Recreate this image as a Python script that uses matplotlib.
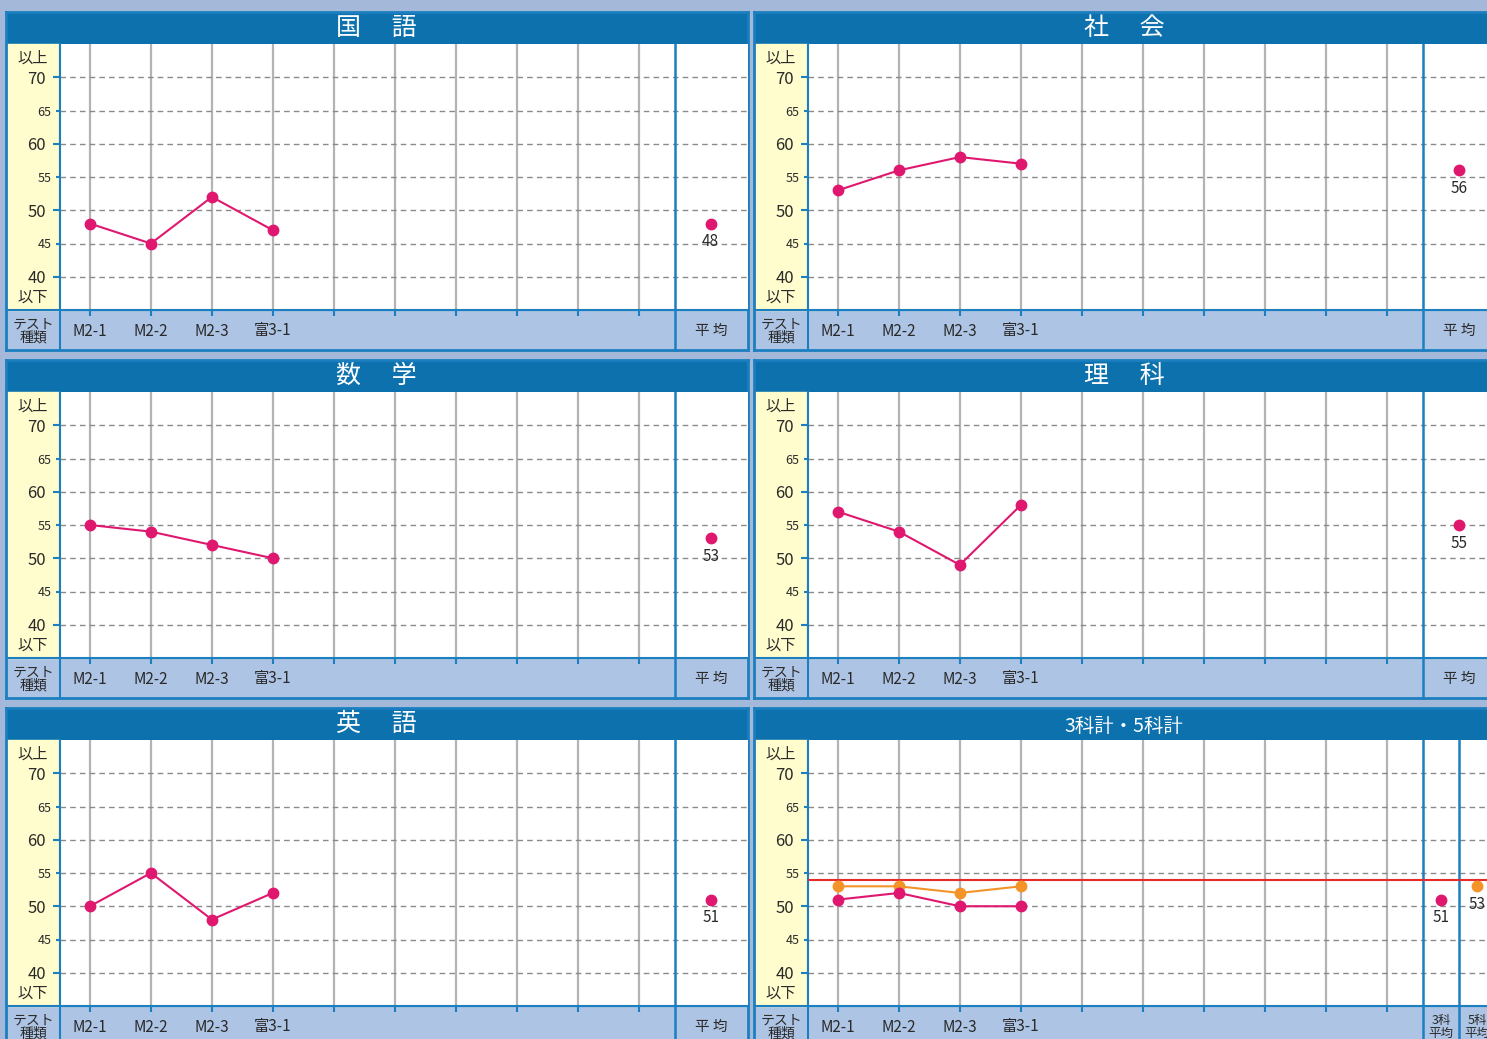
import numpy as np
import matplotlib.pyplot as plt
from matplotlib.ticker import FixedLocator

plt.rcParams['font.family'] = ['Noto Sans CJK JP', 'DejaVu Sans']

W, H = 1487, 1039

# data
tests = ['M2-1', 'M2-2', 'M2-3', '富3-1']
titles = ['国　 語', '社　 会', '数　 学', '理　 科', '英　 語', '3科計・5科計']
kokugo = [48, 45, 52, 47]
shakai = [53, 56, 58, 57]
sugaku = [55, 54, 52, 50]
rika = [57, 54, 49, 58]
eigo = [50, 55, 48, 52]
sum3 = [51, 52, 50, 50]
sum5 = [53, 53, 52, 53]
averages = [48, 56, 53, 55, 51]
avg3, avg5 = 51, 53
ref_line = 54

BLUE = '#0c71ad'
EDGE = '#1b7fc0'
PINK = '#e0176f'
ORANGE = '#f39328'
RED = '#e62b2b'
YELLOW = '#fffccd'
STRIP = '#aec4e4'
TXT = '#2a2a2a'

fig = plt.figure(figsize=(W / 100, H / 100), dpi=100)
fig.patch.set_facecolor('#a4b9d9')


def box(x0, y0, x1, y1):
    return fig.add_axes([x0 / W, 1 - y1 / H, (x1 - x0) / W, (y1 - y0) / H])


def panel(ox, oy, title, tsize=18, ty=16, seps=(9.59,)):
    bg = box(ox, oy, ox + 742, oy + 338)
    bg.set_facecolor(STRIP)
    bg.set_xlim(0, 742)
    bg.set_ylim(338, 0)
    bg.set_xticks([])
    bg.set_yticks([])
    for s in bg.spines.values():
        s.set_color(EDGE)
        s.set_linewidth(2)
    bg.add_patch(plt.Rectangle((0, 0), 742, 32, color=BLUE, zorder=1))
    bg.add_patch(plt.Rectangle((0, 32), 54, 266, color=YELLOW, zorder=1))
    bg.axhline(298, color=EDGE, lw=1.5, zorder=2)
    bg.plot([54, 54], [32, 338], color=EDGE, lw=1.5, zorder=2)
    bg.text(370, ty, title, color='white', fontsize=tsize, ha='center', va='center')
    bg.text(27, 319, 'テスト\n種類', color=TXT, fontsize=10, ha='center', va='center',
            linespacing=0.9)

    ax = box(ox + 54, oy + 32, ox + 742, oy + 298)
    ax.set_facecolor('white')
    ax.set_xlim(-0.49, 10.79)
    ax.set_ylim(35, 75)
    for k, s in ax.spines.items():
        s.set_visible(k in ('left', 'bottom'))
        s.set_color(EDGE)
        s.set_linewidth(1.5)
    ax.set_xticks(range(10))
    ax.set_xticklabels(tests + [''] * 6, fontsize=11, color=TXT)
    ax.tick_params(axis='x', direction='out', length=4, width=1.5, color=EDGE, pad=5)
    ax.yaxis.set_major_locator(FixedLocator([40, 50, 60, 70]))
    ax.yaxis.set_minor_locator(FixedLocator([45, 55, 65]))
    ax.set_yticklabels(['40', '50', '60', '70'], fontsize=12, color=TXT)
    ax.set_yticklabels(['45', '55', '65'], minor=True, fontsize=9, color=TXT)
    ax.tick_params(axis='y', which='major', direction='out', length=5, width=1.5,
                   color=EDGE, pad=5)
    ax.tick_params(axis='y', which='minor', direction='out', length=3, width=1.5,
                   color=EDGE, pad=3)
    ax.xaxis.grid(True, color='#b3b3b3', lw=1.6)
    ax.yaxis.grid(True, which='both', color='#8a8a8a', lw=1, linestyle=(0, (4, 3)))
    ax.set_axisbelow(True)
    for s in seps:
        ax.axvline(s, color=EDGE, lw=1.8, zorder=3)
        ax.plot([s, s], [35, 29], color=EDGE, lw=1.8, clip_on=False, zorder=3)
    yt = ax.get_yaxis_transform()
    ax.text(-0.039, 72.85, '以上', transform=yt, fontsize=11, color=TXT,
            ha='center', va='center', clip_on=False)
    ax.text(-0.039, 36.85, '以下', transform=yt, fontsize=11, color=TXT,
            ha='center', va='center', clip_on=False)
    return ax, bg


def avg_point(ax, x, v, color):
    ax.plot([x], [v], 'o', color=color, ms=7.5, zorder=5, clip_on=False)
    ax.annotate(str(v), (x, v), xytext=(0, -13), textcoords='offset points',
                ha='center', va='center', fontsize=11, color=TXT, zorder=6)


xs = np.arange(len(tests))
series = [kokugo, shakai, sugaku, rika, eigo]
origins = [(6, 12), (754, 12), (6, 360), (754, 360), (6, 708)]

for i, (vals, (ox, oy)) in enumerate(zip(series, origins)):
    ax, bg = panel(ox, oy, titles[i])
    bg.text(705, 319, '平 均', color=TXT, fontsize=10.5, ha='center', va='center')
    ax.plot(xs, vals, '-o', color=PINK, lw=1.5, ms=7.5, zorder=5)
    avg_point(ax, 10.18, averages[i], PINK)

# total panel
ax, bg = panel(754, 708, titles[5], tsize=14, ty=18, seps=(9.59, 10.18))
bg.text(687, 319, '3科\n平均', color=TXT, fontsize=9, ha='center', va='center',
        linespacing=1.0)
bg.text(723, 319, '5科\n平均', color=TXT, fontsize=9, ha='center', va='center',
        linespacing=1.0)
ax.axhline(ref_line, color=RED, lw=1.5, zorder=4)
ax.plot(xs, sum5, '-o', color=ORANGE, lw=1.5, ms=7.5, zorder=5)
ax.plot(xs, sum3, '-o', color=PINK, lw=1.5, ms=7.5, zorder=5)
avg_point(ax, 9.885, avg3, PINK)
avg_point(ax, 10.475, avg5, ORANGE)

fig.savefig('out.png', dpi=100, facecolor=fig.get_facecolor())
